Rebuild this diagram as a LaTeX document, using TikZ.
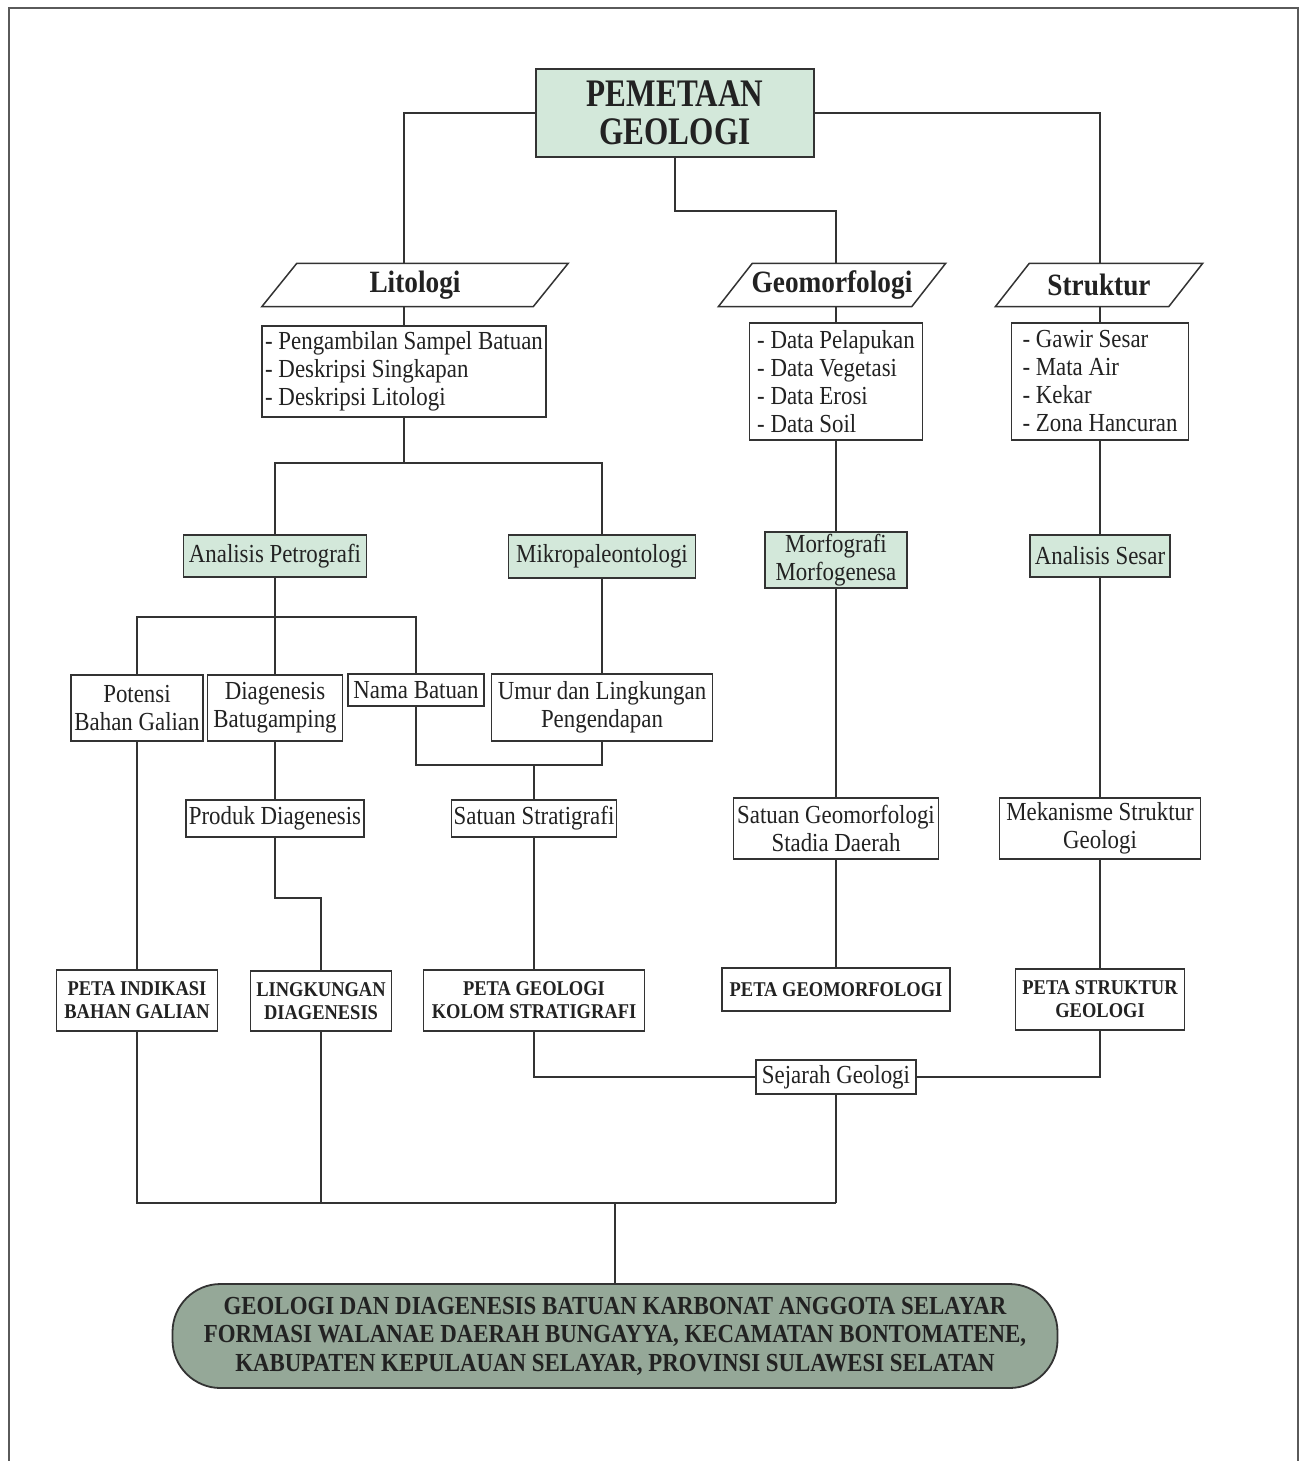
\documentclass[tikz,border=0pt]{standalone}
\usepackage{fontspec}
\setmainfont{Liberation Serif}[FakeStretch=0.88]
\newfontfamily\titlefont{Liberation Serif}[FakeStretch=0.8]
\definecolor{linec}{HTML}{333333}
\definecolor{txtc}{HTML}{222222}
\definecolor{greenfill}{HTML}{D3E8DA}
\definecolor{finalfill}{HTML}{95A898}
\definecolor{framec}{HTML}{5A5A5A}
\newcommand{\regfont}{\fontsize{26}{28}\selectfont}
\newcommand{\headfont}{\fontsize{31}{34}\selectfont\bfseries}
\newcommand{\petafont}{\fontsize{21}{23}\selectfont\bfseries}
\newcommand{\finalfont}{\fontsize{26}{28.5}\selectfont\bfseries}
\tikzset{
  conn/.style={draw=linec, line width=1.6pt},
  box/.style={draw=linec, line width=1.5pt, fill=white, inner sep=2pt, align=center, text=txtc, font=\regfont},
  gbox/.style={box, fill=greenfill},
  listbox/.style={box, align=left, inner xsep=3pt},
  petabox/.style={box, font=\petafont, line width=1.8pt},
  parabody/.style={inner sep=0pt, text=txtc, font=\headfont},
  paraedge/.style={draw=linec, line width=1.5pt, fill=white},
}
\newcommand{\parabox}[2]{% name, half slant
  \path[paraedge] ([xshift=-#2]#1.south west) -- ([xshift=#2]#1.north west)
     -- ([xshift=#2]#1.north east) -- ([xshift=-#2]#1.south east) -- cycle;
}
\begin{document}
\begin{tikzpicture}[x=1pt,y=-1pt]
\useasboundingbox (0,0) rectangle (1306,1461);
% frame
\draw[framec, line width=2.5pt] (9,1461) -- (9,8) -- (1298,8) -- (1298,1461);

% title
\node[gbox, minimum width=278, minimum height=88, font={\titlefont\fontsize{39}{38}\selectfont\bfseries}] (title) at (675,113) {PEMETAAN\\GEOLOGI};

% parallelogram headers
\node[parabody, minimum width=271, minimum height=43] (lit) at (415,285) {};
\node[parabody, minimum width=193, minimum height=43] (geo) at (832,285) {};
\node[parabody, minimum width=173, minimum height=43] (str) at (1099,285) {};
\parabox{lit}{17.5pt}
\parabox{geo}{17pt}
\parabox{str}{17pt}
\node[parabody] (littext) at (lit) {Litologi};
\node[parabody] (geotext) at (geo) {Geomorfologi};
\node[parabody] (strtext) at (str) {Struktur};

% lists
\node[listbox, minimum width=284, minimum height=91] (litlist) at (404,371.5) {- Pengambilan Sampel Batuan\\- Deskripsi Singkapan\\- Deskripsi Litologi};
\node[listbox, minimum width=173, minimum height=117] (geolist) at (836,381.5) {- Data Pelapukan\\- Data Vegetasi\\- Data Erosi\\- Data Soil};
\node[listbox, minimum width=177, minimum height=117] (strlist) at (1100,381.5) {- Gawir Sesar\\- Mata Air\\- Kekar\\- Zona Hancuran};

% green analysis boxes
\node[gbox, minimum width=183, minimum height=42] (ap) at (275,556) {Analisis Petrografi};
\node[gbox, minimum width=187, minimum height=43] (mp) at (602,556.5) {Mikropaleontologi};
\node[gbox, minimum width=142, minimum height=56] (mm) at (836,560) {Morfografi\\Morfogenesa};
\node[gbox, minimum width=140, minimum height=42] (as) at (1100,556) {Analisis Sesar};

% middle row
\node[box, minimum width=132, minimum height=66] (pot) at (137,708) {Potensi\\Bahan Galian};
\node[box, minimum width=135, minimum height=66] (dia) at (275,708) {Diagenesis\\Batugamping};
\node[box, minimum width=136, minimum height=32] (nama) at (416,690) {Nama Batuan};
\node[box, minimum width=221, minimum height=67] (umur) at (602,707.5) {Umur dan Lingkungan\\Pengendapan};

\node[box, minimum width=178, minimum height=37] (produk) at (275,818.5) {Produk Diagenesis};
\node[box, minimum width=165, minimum height=37] (satstrat) at (534,818.5) {Satuan Stratigrafi};
\node[box, minimum width=205, minimum height=61] (satgeo) at (836,828.5) {Satuan Geomorfologi\\Stadia Daerah};
\node[box, minimum width=201, minimum height=61] (mek) at (1100,828.5) {Mekanisme Struktur\\Geologi};

% map boxes
\node[petabox, minimum width=161, minimum height=61] (pind) at (137,1000.5) {PETA INDIKASI\\BAHAN GALIAN};
\node[petabox, minimum width=141, minimum height=60] (ling) at (321,1001) {LINGKUNGAN\\DIAGENESIS};
\node[petabox, minimum width=221, minimum height=61] (pgeo) at (534,1000.5) {PETA GEOLOGI\\KOLOM STRATIGRAFI};
\node[petabox, minimum width=228, minimum height=43] (pgm) at (836,989.5) {PETA GEOMORFOLOGI};
\node[petabox, minimum width=169, minimum height=61] (pstr) at (1100,999.5) {PETA STRUKTUR\\GEOLOGI};

\node[box, minimum width=160, minimum height=34] (sej) at (836,1077) {Sejarah Geologi};

\node[draw=linec, line width=1.8pt, fill=finalfill, rounded corners=48pt, minimum width=885, minimum height=104, align=center, text=txtc, font=\finalfont] (final) at (615,1336) {GEOLOGI DAN DIAGENESIS BATUAN KARBONAT ANGGOTA SELAYAR\\FORMASI WALANAE DAERAH BUNGAYYA, KECAMATAN BONTOMATENE,\\KABUPATEN KEPULAUAN SELAYAR, PROVINSI SULAWESI SELATAN};

% connectors
\draw[conn] (title.west) -| (lit.north -| litlist.north);
\draw[conn] (title.east) -| (str.north -| strlist.north);
\draw[conn] (title.south) -- ++(0,53) -| (geo.north -| geolist.north);
\draw[conn] (lit.south -| litlist.north) -- (litlist.north);
\draw[conn] (geo.south -| geolist.north) -- (geolist.north);
\draw[conn] (str.south -| strlist.north) -- (strlist.north);

\draw[conn] (litlist.south) -- ++(0,45) coordinate (j1);
\draw[conn] (ap.north) |- (j1) -| (mp.north);

\draw[conn] (geolist.south) -- (mm.north);
\draw[conn] (mm.south) -- (satgeo.north);
\draw[conn] (satgeo.south) -- (pgm.north);

\draw[conn] (strlist.south) -- (as.north);
\draw[conn] (as.south) -- (mek.north);
\draw[conn] (mek.south) -- (pstr.north);

\coordinate (j2) at ([yshift=-39pt]ap.south);
\draw[conn] (ap.south) -- (dia.north);
\draw[conn] (pot.north) |- (j2) -| (nama.north);
\draw[conn] (mp.south) -- (umur.north);

\coordinate (j3) at ([yshift=-23pt]umur.south);
\draw[conn] (nama.south) |- (j3) -- (umur.south);
\draw[conn] (satstrat.north) -- (satstrat.north |- j3);

\draw[conn] (dia.south) -- (produk.north);
\draw[conn] (produk.south) -- ++(0,60) -| (ling.north);
\draw[conn] (pot.south) -- (pind.north);
\draw[conn] (satstrat.south) -- (pgeo.north);

\draw[conn] (pgeo.south) |- (sej.west);
\draw[conn] (pstr.south) |- (sej.east);

\coordinate (j4) at ([yshift=-108pt]sej.south);
\draw[conn] (pind.south) |- (j4);
\draw[conn] (ling.south) -- (ling.south |- j4);
\draw[conn] (sej.south) -- (j4);
\draw[conn] (final.north) -- (final.north |- j4);
\end{tikzpicture}
\end{document}
